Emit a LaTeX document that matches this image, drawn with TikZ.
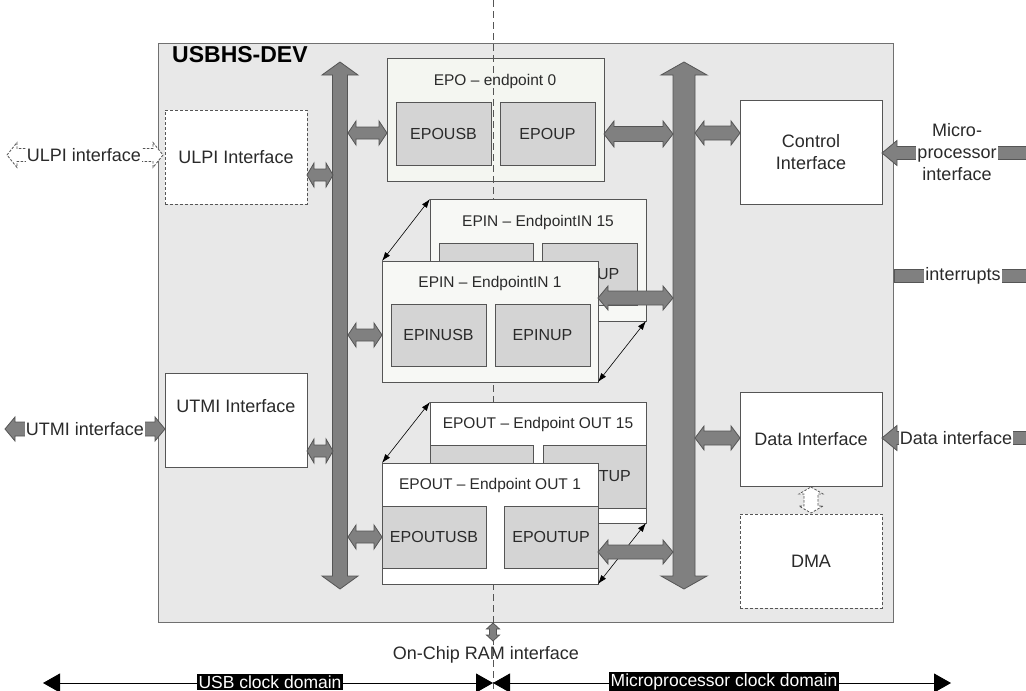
\documentclass[tikz,border=0pt]{standalone}
\usepackage{fontspec}
\setmainfont{Liberation Sans}
\usetikzlibrary{arrows.meta}
\definecolor{boxline}{HTML}{555555}
\definecolor{mainfill}{HTML}{E8E8E8}
\definecolor{mainline}{HTML}{707070}
\definecolor{subfill}{HTML}{D4D4D4}
\definecolor{epofill}{HTML}{F4F6F1}
\definecolor{epinfill}{HTML}{F7F8F5}
\definecolor{busfill}{HTML}{808080}
\definecolor{busline}{HTML}{555555}
\definecolor{txt}{HTML}{2A2A2A}
\definecolor{dashcol}{HTML}{555555}
% horizontal double block arrow: style, x1, x2, y, shaft half, head half, head length
\newcommand{\hdbl}[7]{\path[#1] (#2,#4) -- ({#2+#7},{#4-#6}) -- ({#2+#7},{#4-#5}) -- ({#3-#7},{#4-#5}) -- ({#3-#7},{#4-#6}) -- (#3,#4) -- ({#3-#7},{#4+#6}) -- ({#3-#7},{#4+#5}) -- ({#2+#7},{#4+#5}) -- ({#2+#7},{#4+#6}) -- cycle;}
% vertical double block arrow: style, x, y1, y2, shaft half, head half, head length
\newcommand{\vdbl}[7]{\path[#1] (#2,#3) -- ({#2+#6},{#3+#7}) -- ({#2+#5},{#3+#7}) -- ({#2+#5},{#4-#7}) -- ({#2+#6},{#4-#7}) -- (#2,#4) -- ({#2-#6},{#4-#7}) -- ({#2-#5},{#4-#7}) -- ({#2-#5},{#3+#7}) -- ({#2-#6},{#3+#7}) -- cycle;}
% left-pointing single block arrow: style, x1 (tip), x2 (flat end), y, shaft half, head half, head length
\newcommand{\hleft}[7]{\path[#1] (#2,#4) -- ({#2+#7},{#4-#6}) -- ({#2+#7},{#4-#5}) -- (#3,{#4-#5}) -- (#3,{#4+#5}) -- ({#2+#7},{#4+#5}) -- ({#2+#7},{#4+#6}) -- cycle;}
% box node by corners: name, style, x1, y1, x2, y2, text
\newcommand{\boxnode}[7]{\node[#2, anchor=north west, minimum width={(#5)-(#3)}, minimum height={(#6)-(#4)}] (#1) at (#3,#4) {#7};}
\begin{document}
\begin{tikzpicture}[x=1pt,y=-1pt,
  box/.style={draw=boxline, line width=0.9pt, fill=white, inner sep=0pt, outer sep=0pt, font=\fontsize{18}{22}\selectfont, text=txt, align=center},
  dbox/.style={box, dash pattern=on 3pt off 2pt},
  mainbox/.style={box, draw=mainline, fill=mainfill},
  sub/.style={box, fill=subfill, font=\fontsize{16}{19}\selectfont},
  subtxt/.style={font=\fontsize{16}{19}\selectfont, text=txt, inner sep=0pt},
  ttl/.style={font=\fontsize{15.5}{18}\selectfont, text=txt, inner sep=0pt},
  bus/.style={fill=busfill, draw=busline, line width=0.8pt},
  hollow/.style={fill=white, draw=busline, line width=0.8pt, dash pattern=on 2.5pt off 1.5pt},
  lbl/.style={font=\fontsize{18}{22}\selectfont, text=txt, inner sep=1pt, fill=white},
  conn/.style={line width=0.6pt, draw=black, {Latex[length=9pt,width=6pt]}-{Latex[length=9pt,width=6pt]}},
  clk/.style={line width=0.9pt, {Triangle[length=17pt,width=19pt]}-{Triangle[length=17pt,width=19pt]}},
  clklbl/.style={fill=black, text=white, inner sep=1.5pt, font=\fontsize{17.5}{20}\selectfont},
  vdashline/.style={draw=dashcol, line width=1pt, dash pattern=on 7pt off 4pt}
]
\useasboundingbox (0,0) rectangle (1026,691);
\fill[white] (0,0) rectangle (1026,691);

% main block
\boxnode{main}{mainbox}{158}{43}{893}{622}{}
\node[font=\bfseries\fontsize{23}{26}\selectfont, anchor=west, inner sep=0pt] (title) at (172,55) {USBHS-DEV};

% EPO endpoint 0
\boxnode{epo}{box, fill=epofill}{387}{58}{604}{181}{}
\node[ttl] (epot) at (495,81) {EPO – endpoint 0};
\boxnode{epousb}{sub}{396}{102}{491}{165}{EPOUSB}
\boxnode{epoup}{sub}{500}{102}{595}{165}{EPOUP}

% dashed clock boundary
\coordinate (dtop) at (493,0);
\coordinate (dbot) at (493,691);
\draw[vdashline] (dtop) -- (dbot);

% EPIN 15
\boxnode{epin15}{box, fill=epinfill}{430}{199}{646}{321}{}
\node[ttl] (epin15t) at (538,222) {EPIN – EndpointIN 15};
\boxnode{epin15usb}{sub}{439}{243}{533}{305}{}
\boxnode{epin15up}{sub}{542}{243}{637}{305}{}
\node[subtxt, anchor=east] (epin15upt) at (619.5,274) {UP};
% EPIN 1
\boxnode{epin1}{box, fill=epinfill}{382}{261}{598}{382}{}
\node[ttl] (epin1t) at (490,283) {EPIN – EndpointIN 1};
\boxnode{epin1usb}{sub}{391}{304}{486}{366}{EPINUSB}
\boxnode{epin1up}{sub}{495}{304}{590}{366}{EPINUP}
\draw[conn] (epin1.north west) -- (epin15.north west);
\draw[conn] (epin1.south east) -- (epin15.south east);

% EPOUT 15
\boxnode{epout15}{box}{430}{402}{646}{523}{}
\node[ttl] (epout15t) at (538,424) {EPOUT – Endpoint OUT 15};
\boxnode{epout15usb}{sub}{430}{445}{533}{508}{}
\boxnode{epout15up}{sub}{543}{445}{646}{508}{}
\node[subtxt, anchor=east] (epout15upt) at (631,476) {TUP};
% EPOUT 1
\boxnode{epout1}{box}{382}{463}{598}{584}{}
\node[ttl] (epout1t) at (490,485) {EPOUT – Endpoint OUT 1};
\boxnode{epout1usb}{sub}{382}{506}{486}{568}{EPOUTUSB}
\boxnode{epout1up}{sub}{504}{506}{598}{568}{EPOUTUP}
\draw[conn] (epout1.north west) -- (epout15.north west);
\draw[conn] (epout1.south east) -- (epout15.south east);

% interface blocks
\boxnode{ulpi}{dbox}{165}{110}{307}{204}{ULPI Interface}
\boxnode{utmi}{box}{165}{373}{307}{467}{UTMI Interface\\[6pt]}
\boxnode{ctrl}{box}{740}{100}{882}{204}{Control\\Interface}
\boxnode{data}{box}{740}{392}{882}{486}{Data Interface}
\boxnode{dma}{dbox}{740}{514}{882}{608}{DMA}

% buses
\vdbl{bus}{340}{62}{589}{7.5}{18}{13}
\vdbl{bus}{684}{62}{589}{11}{23}{13}

% bus connections (left)
\hdbl{bus}{307}{333}{175}{6}{12}{7}
\hdbl{bus}{348}{387}{133}{6}{12}{8}
\hdbl{bus}{348}{382}{335}{6}{12}{8}
\hdbl{bus}{307}{333}{451}{6}{12}{7}
\hdbl{bus}{348}{382}{537}{6}{12}{8}
% bus connections (right)
\hdbl{bus}{604}{673}{134}{7.5}{13}{10}
\hdbl{bus}{598}{673}{298}{7}{12}{10}
\hdbl{bus}{598}{673}{552}{7}{12}{10}
\hdbl{bus}{695}{740}{133}{7}{12}{9}
\hdbl{bus}{695}{740}{438}{7}{12}{9}
% data <-> DMA
\vdbl{hollow}{811}{487}{513}{7}{12}{7}
% on-chip RAM
\vdbl{bus}{493}{623}{641}{3.5}{6.5}{6}
\node[lbl, fill=none] (ram) at (486,655) {On-Chip RAM interface};

% external interfaces (left)
\hdbl{hollow}{7}{163}{155}{6.5}{12.5}{10}
\node[lbl] (ulpix) at (84,155) {ULPI interface};
\hdbl{bus}{5}{165}{429}{7}{12}{10}
\node[lbl] (utmix) at (85,429) {UTMI interface};

% external interfaces (right)
\hleft{bus}{882}{1027}{153}{6.5}{12.5}{15}
\node[lbl, align=center] (mpx) at (957,152) {Micro-\\processor\\interface};
\path[bus] (894,269.5) rectangle (1027,282.5);
\node[lbl] (irq) at (963,276) {interrupts};
\hleft{bus}{882}{1027}{438}{6.5}{12.5}{15}
\node[lbl] (datax) at (956,438) {Data interface};

% clock domains
\coordinate (cl) at (43,683);
\coordinate (cm) at (493,683);
\coordinate (cr) at (951,683);
\draw[clk] (cl) -- (cm);
\draw[clk] (cm) -- (cr);
\node[clklbl] (usbclk) at (270,682) {USB clock domain};
\node[clklbl] (mpclk) at (724,682) {Microprocessor clock domain};
\end{tikzpicture}
\end{document}
